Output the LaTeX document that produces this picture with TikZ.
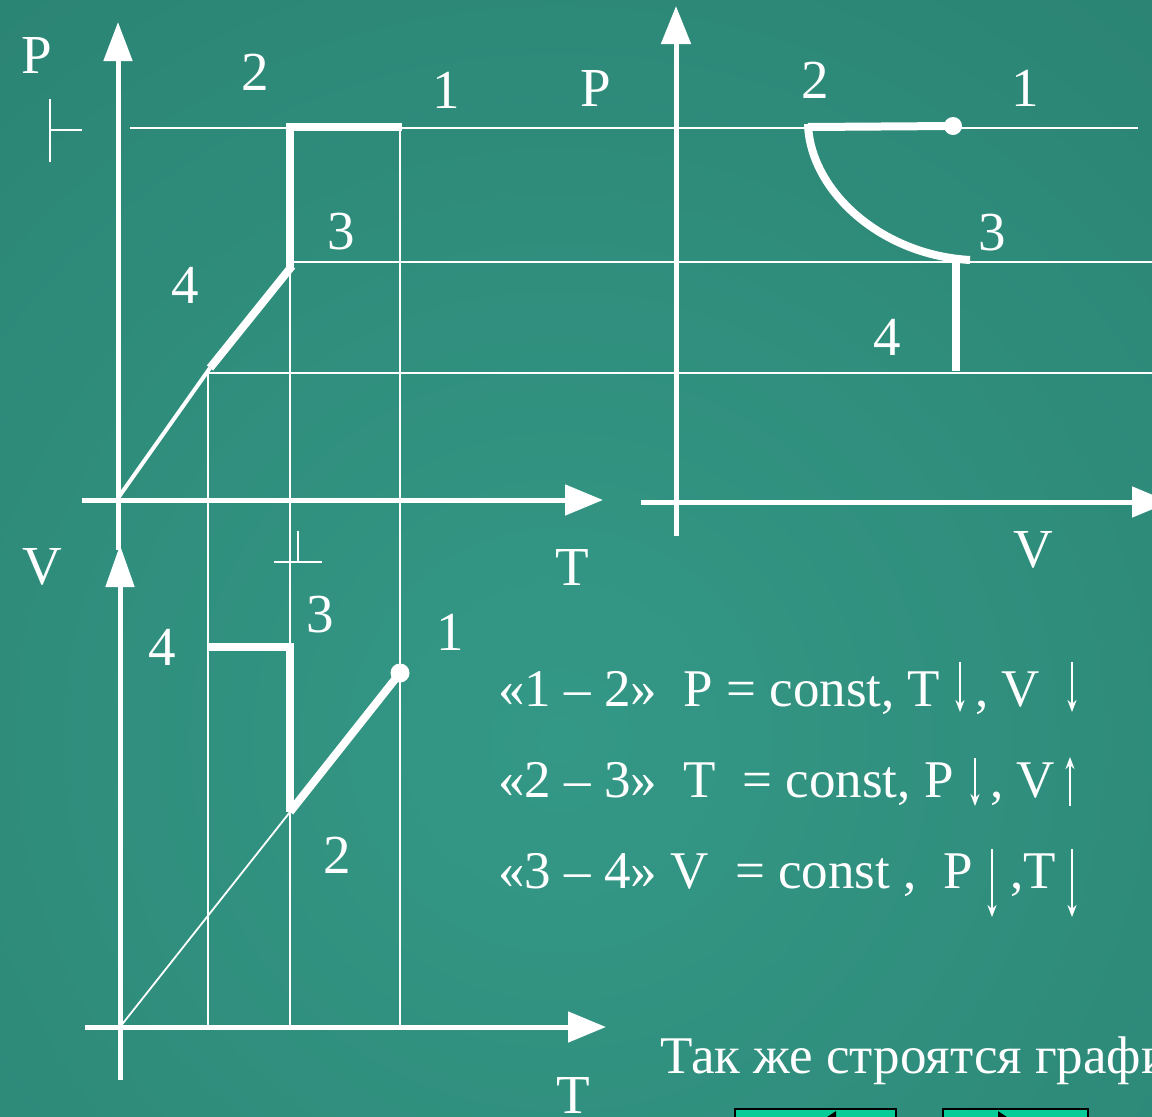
\documentclass[tikz,border=0pt]{standalone}
\usepackage{fontspec}
\setmainfont{Liberation Serif}
\usetikzlibrary{arrows.meta}
\definecolor{bgDark}{RGB}{35,114,99}
\definecolor{bgLight}{RGB}{52,152,134}
\definecolor{btnGreen}{RGB}{8,204,152}
\begin{document}
\begin{tikzpicture}[x=1pt,y=-1pt,
  axis/.style={white,line width=5pt},
  grid/.style={white,line width=1.8pt},
  proc/.style={white,line width=8pt},
  lbl/.style={text=white,font=\fontsize{55}{60}\selectfont,inner sep=0pt},
  txt/.style={text=white,font=\fontsize{53}{60}\selectfont,inner sep=0pt,anchor=base west},
  sarrow/.style={white,line width=2pt,-{Stealth[length=12pt,width=9pt]}},
  btn/.style={fill=btnGreen,draw=black,line width=2pt},
]
\useasboundingbox (0,0) rectangle (1152,1117);
\clip (0,0) rectangle (1152,1117);
\shade[inner color=bgLight,outer color=bgDark] (560,740) circle (1800);

% grid lines
\draw[grid] (130,128) -- (1138,128);
\draw[grid] (290,262) -- (1152,262);
\draw[grid] (208,373) -- (1152,373);
\draw[grid] (400,131) -- (400,1027);
\draw[grid] (290,262) -- (290,1027);
\draw[grid] (208,370) -- (208,1027);

% tick marks
\draw[grid] (50,99) -- (50,162);
\draw[grid] (50,130) -- (82,130);
\draw[grid] (274,562) -- (322,562);
\draw[grid] (298,531) -- (298,562);

% axes: P-T
\draw[axis,-{Triangle[length=39pt,width=28pt]}] (118,550) -- (118,22);
\draw[axis,-{Triangle[length=38pt,width=30pt]}] (82,500) -- (603,500);
% axes: P-V
\draw[axis,-{Triangle[length=38pt,width=29pt]}] (676,536) -- (676,6);
\draw[axis,-{Triangle[length=38pt,width=30pt]}] (641,502) -- (1170,502);
% axes: V-T
\draw[axis,-{Triangle[length=42pt,width=28pt]}] (120,1080) -- (120,545);
\draw[axis,-{Triangle[length=38pt,width=30pt]}] (85,1027) -- (606,1027);

% P-T process
\coordinate (A1) at (402,127);
\coordinate (A2) at (290,127);
\coordinate (A3) at (290,268);
\coordinate (A4) at (210,368);
\coordinate (O1) at (118,498);
\draw[proc] (A1) -- (A2) -- (A3);
\draw[proc] (292,266) -- (A4);
\draw[white,line width=4pt] (A4) -- (O1);

% P-V process
\coordinate (B2) at (808,127);
\coordinate (B1) at (953,126);
\coordinate (B3) at (970,260);
\coordinate (B4) at (956,371);
\draw[proc] (B2) -- (B1);
\fill[white] (B1) circle (9);
\draw[proc] (808,124) .. controls (810,190) and (880,255) .. (B3);
\draw[proc] (956,258) -- (B4);

% V-T process
\coordinate (C4) at (208,647);
\coordinate (C3) at (290,647);
\coordinate (C2) at (290,812);
\coordinate (C1) at (400,673);
\coordinate (O2) at (120,1027);
\draw[proc] (C4) -- (C3) -- (C2);
\draw[proc] (C2) -- (C1);
\fill[white] (C1) circle (9.5);
\draw[grid] (O2) -- (C2);

% labels P-T
\node[lbl] (pPT) at (37,55) {P};
\node[lbl] (l2a) at (255,72) {2};
\node[lbl] (l1a) at (446,90) {1};
\node[lbl] (l3a) at (341,232) {3};
\node[lbl] (l4a) at (185,285) {4};
\node[lbl] (tPT) at (572,567) {T};
% labels P-V
\node[lbl] (pPV) at (596,88) {P};
\node[lbl] (l2b) at (815,80) {2};
\node[lbl] (l1b) at (1025,88) {1};
\node[lbl] (l3b) at (992,233) {3};
\node[lbl] (l4b) at (887,337) {4};
\node[lbl] (vPV) at (1033,550) {V};
% labels V-T
\node[lbl] (vVT) at (42,567) {V};
\node[lbl] (l4c) at (162,647) {4};
\node[lbl] (l3c) at (320,615) {3};
\node[lbl] (l1c) at (450,632) {1};
\node[lbl] (l2c) at (337,855) {2};
\node[lbl] (tVT) at (573,1095) {T};

% process descriptions
\node[txt] (r1a) at (498,706) {«1 – 2»\hspace{0.5em}P = const, T};
\node[txt] (r1b) at (975,706) {, V};
\draw[sarrow] (960,662) -- (960,712);
\draw[sarrow] (1072,662) -- (1072,712);

\node[txt] (r2a) at (498,797) {«2 – 3»\hspace{0.5em}T\hspace{0.5em}= const, P};
\node[txt] (r2b) at (990,797) {, V};
\draw[sarrow] (975,758) -- (975,806);
\draw[sarrow] (1070,806) -- (1070,757);

\node[txt] (r3a) at (498,888) {«3 – 4» V\hspace{0.5em}= const ,\hspace{0.5em}P};
\node[txt] (r3b) at (1010,888) {,T};
\draw[sarrow] (992,849) -- (992,917);
\draw[sarrow] (1072,849) -- (1072,917);

\node[txt] (foot) at (660,1073) {Так же строятся графики};

% navigation buttons
\draw[btn] (735,1109) rectangle (896,1140);
\draw[btn] (943,1109) rectangle (1088,1140);
\fill[black] (824,1119) -- (836,1111) -- (836,1127) -- cycle;
\fill[black] (998,1111) -- (1010,1119) -- (998,1127) -- cycle;
\end{tikzpicture}
\end{document}
